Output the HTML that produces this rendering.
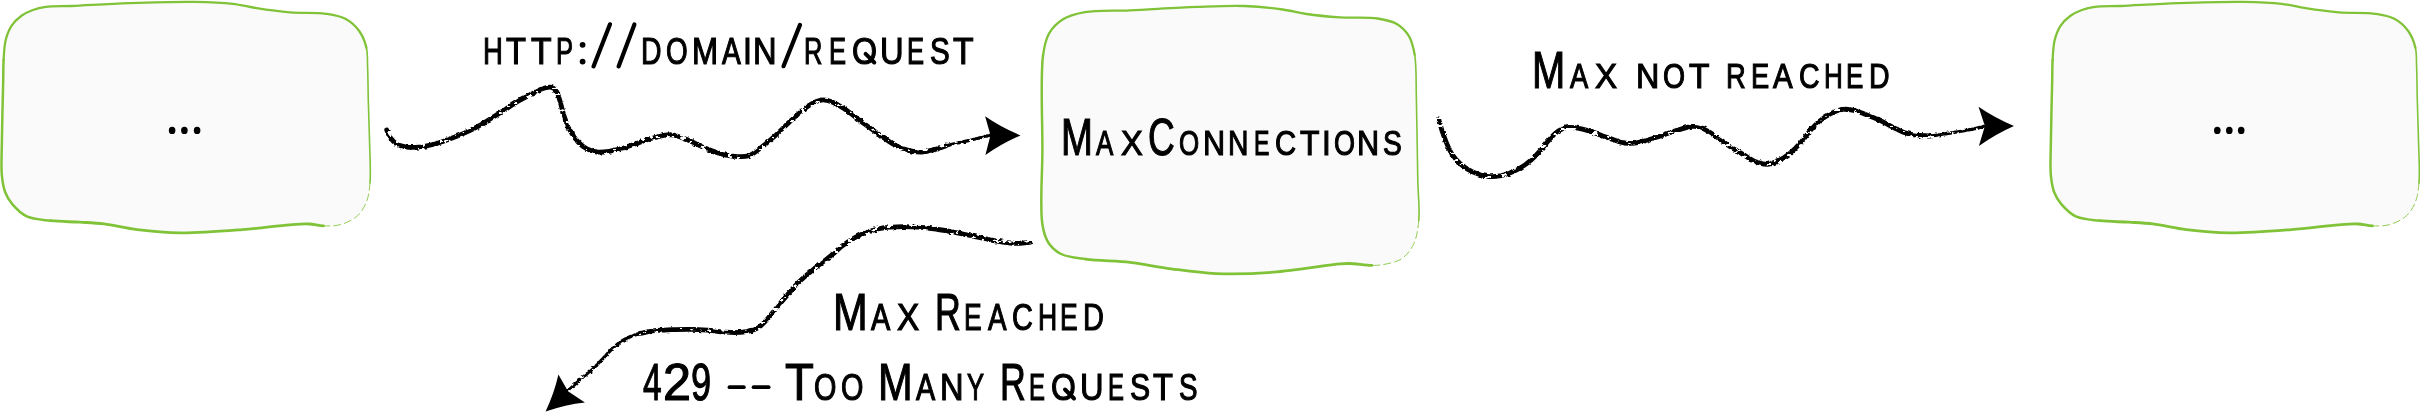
<!DOCTYPE html>
<html><head><meta charset="utf-8">
<style>
html,body{margin:0;padding:0;background:#fff;}
body{width:2420px;height:419px;position:relative;overflow:hidden;}
svg{position:absolute;left:0;top:0;}
.c{position:absolute;white-space:nowrap;font-family:"Liberation Sans",sans-serif;color:#000;line-height:1;transform-origin:0 0;-webkit-text-stroke:1.15px #000;}
</style></head><body>
<svg width="2420" height="419" viewBox="0 0 2420 419">
<defs>
<filter id="rough" x="-5%" y="-20%" width="110%" height="140%"><feTurbulence type="fractalNoise" baseFrequency="0.25" numOctaves="2" seed="3" result="n"/><feDisplacementMap in="SourceGraphic" in2="n" scale="3" xChannelSelector="R" yChannelSelector="G" result="d"/><feTurbulence type="fractalNoise" baseFrequency="0.15 0.25" numOctaves="3" seed="11" result="n2"/><feColorMatrix in="n2" type="matrix" values="0 0 0 0 0  0 0 0 0 0  0 0 0 0 0  -25 0 0 0 17.0" result="m"/><feComposite in="d" in2="m" operator="in"/></filter>
</defs>
<path d="M45.8,6.9 C52.9,5.9 61.3,6.4 71.6,6.0 C86.9,5.3 109.1,3.8 128.8,3.1 C149.9,2.4 175.6,1.6 194.5,1.9 C209.0,2.1 221.5,2.5 232.7,3.8 C241.6,4.8 248.0,6.8 256.6,8.1 C266.8,9.7 278.7,11.4 290.0,12.4 C301.7,13.4 315.8,12.4 325.8,13.8 C333.2,14.9 339.3,15.7 344.9,18.6 C350.4,21.5 355.6,26.1 359.2,31.0 C362.7,35.8 365.0,41.8 366.4,47.7 C367.8,53.7 367.3,59.6 367.6,66.8 C368.0,76.3 368.0,88.4 368.3,100.0 C368.6,112.7 369.2,126.4 369.5,140.0 C369.8,154.1 371.0,171.6 370.0,183.0 C369.3,190.6 368.7,196.3 366.4,202.0 C364.2,207.4 361.1,212.6 356.8,216.4 C352.4,220.3 345.8,223.1 340.1,224.7 C334.7,226.2 328.7,226.1 323.4,225.9 C318.4,225.8 314.2,224.2 309.1,224.0 C303.2,223.7 297.8,224.2 290.0,224.8 C277.7,225.7 259.3,228.3 242.3,229.6 C223.0,231.1 199.0,233.1 180.2,232.9 C164.6,232.7 150.7,231.3 137.3,229.6 C125.4,228.1 114.1,225.1 103.9,223.9 C95.3,222.9 88.4,222.7 80.0,222.2 C70.7,221.6 59.9,221.8 50.7,220.7 C42.3,219.7 33.4,219.5 26.8,216.4 C21.0,213.7 16.2,208.7 12.5,204.4 C9.3,200.7 7.0,197.0 5.3,192.5 C3.4,187.6 2.6,182.5 1.9,175.8 C0.9,166.2 1.8,153.5 1.9,140.0 C2.1,122.6 2.9,94.6 3.2,80.0 C3.4,71.5 3.2,66.7 3.6,60.0 C4.0,53.3 4.2,46.0 5.7,40.0 C7.0,34.8 8.8,29.9 11.5,25.8 C14.1,21.8 17.8,18.4 21.5,15.7 C25.0,13.2 28.9,11.5 32.9,10.0 C37.0,8.5 40.7,7.6 45.8,6.9 Z" fill="#fafafa" stroke="none"/><g fill="none" stroke="#80c338" stroke-linecap="round" stroke-linejoin="round"><path d="M3.6,60.0 C4.0,53.3 4.2,46.0 5.7,40.0 C7.0,34.8 8.8,29.9 11.5,25.8 C14.1,21.8 17.8,18.4 21.5,15.7 C25.0,13.2 28.9,11.5 32.9,10.0 C37.0,8.5 40.7,7.6 45.8,6.9 C52.9,5.9 61.3,6.4 71.6,6.0 C86.9,5.3 109.1,3.8 128.8,3.1 C149.9,2.4 175.6,1.6 194.5,1.9 C209.0,2.1 221.5,2.5 232.7,3.8 C241.6,4.8 248.0,6.8 256.6,8.1 C266.8,9.7 278.7,11.4 290.0,12.4 C301.7,13.4 315.8,12.4 325.8,13.8 C333.2,14.9 339.3,15.7 344.9,18.6 C350.4,21.5 355.6,26.1 359.2,31.0 C362.7,35.8 365.0,41.8 366.4,47.7" stroke-width="2.3"/><path d="M366.4,47.7 C367.8,53.7 367.3,59.6 367.6,66.8 C368.0,76.3 368.0,88.4 368.3,100.0 C368.6,112.7 369.2,126.4 369.5,140.0 C369.8,154.1 371.0,171.6 370.0,183.0" stroke-width="1.6"/><path d="M370.0,183.0 C369.3,190.6 368.7,196.3 366.4,202.0 C364.2,207.4 361.1,212.6 356.8,216.4 C352.4,220.3 345.8,223.1 340.1,224.7 C334.7,226.2 328.7,226.1 323.4,225.9" stroke-width="1.0" stroke-dasharray="7 4" stroke-opacity="0.85"/><path d="M323.4,225.9 C318.4,225.8 314.2,224.2 309.1,224.0 C303.2,223.7 297.8,224.2 290.0,224.8 C277.7,225.7 259.3,228.3 242.3,229.6 C223.0,231.1 199.0,233.1 180.2,232.9 C164.6,232.7 150.7,231.3 137.3,229.6 C125.4,228.1 114.1,225.1 103.9,223.9 C95.3,222.9 88.4,222.7 80.0,222.2 C70.7,221.6 59.9,221.8 50.7,220.7" stroke-width="2.8"/><path d="M50.7,220.7 C42.3,219.7 33.4,219.5 26.8,216.4 C21.0,213.7 16.2,208.7 12.5,204.4 C9.3,200.7 7.0,197.0 5.3,192.5 C3.4,187.6 2.6,182.5 1.9,175.8 C0.9,166.2 1.8,153.5 1.9,140.0 C2.1,122.6 2.9,94.6 3.2,80.0 C3.4,71.5 3.2,66.7 3.6,60.0" stroke-width="2.5"/></g>
<path d="M1084.9,12.2 C1097.1,10.0 1113.5,11.1 1130.0,10.3 C1150.1,9.4 1176.4,7.6 1196.8,6.9 C1214.0,6.3 1229.5,5.5 1244.5,6.0 C1258.0,6.5 1271.5,7.9 1282.7,9.5 C1291.6,10.7 1297.9,12.7 1306.6,14.0 C1316.8,15.5 1328.5,16.6 1340.0,17.4 C1352.2,18.2 1367.3,16.9 1377.7,18.5 C1385.2,19.7 1391.5,20.8 1396.8,23.9 C1401.7,26.8 1405.8,30.9 1408.8,35.8 C1412.0,41.1 1413.4,47.1 1414.7,54.9 C1416.7,66.7 1415.9,82.8 1416.4,100.0 C1417.0,122.9 1417.3,157.8 1417.8,180.0 C1418.1,195.8 1419.9,208.9 1418.8,220.6 C1417.9,229.6 1416.7,237.8 1413.5,244.4 C1410.7,250.2 1406.6,255.4 1401.6,258.8 C1396.4,262.3 1388.0,263.7 1382.5,264.7 C1378.5,265.4 1376.0,265.4 1371.8,265.4 C1365.6,265.3 1355.0,263.6 1349.1,263.5 C1345.4,263.4 1344.4,263.5 1340.0,263.9 C1328.0,264.9 1294.7,270.6 1273.2,272.2 C1253.4,273.7 1233.8,274.3 1215.9,273.6 C1200.0,272.9 1185.6,270.7 1171.0,268.8 C1157.0,267.0 1144.0,264.0 1130.0,262.4 C1115.6,260.8 1098.4,261.0 1085.8,259.2 C1076.3,257.9 1067.5,257.3 1061.0,254.0 C1055.7,251.3 1051.7,247.6 1048.6,243.0 C1045.3,238.0 1043.8,232.9 1042.4,224.5 C1039.7,208.1 1042.3,176.3 1042.4,150.0 C1042.5,120.2 1040.2,75.2 1043.1,54.9 C1044.5,45.1 1045.6,39.5 1049.1,33.4 C1052.5,27.6 1057.7,22.6 1063.4,19.1 C1069.5,15.4 1076.3,13.7 1084.9,12.2 Z" fill="#fafafa" stroke="none"/><g fill="none" stroke="#80c338" stroke-linecap="round" stroke-linejoin="round"><path d="M1043.1,54.9 C1044.5,45.1 1045.6,39.5 1049.1,33.4 C1052.5,27.6 1057.7,22.6 1063.4,19.1 C1069.5,15.4 1076.3,13.7 1084.9,12.2 C1097.1,10.0 1113.5,11.1 1130.0,10.3 C1150.1,9.4 1176.4,7.6 1196.8,6.9 C1214.0,6.3 1229.5,5.5 1244.5,6.0 C1258.0,6.5 1271.5,7.9 1282.7,9.5 C1291.6,10.7 1297.9,12.7 1306.6,14.0 C1316.8,15.5 1328.5,16.6 1340.0,17.4 C1352.2,18.2 1367.3,16.9 1377.7,18.5 C1385.2,19.7 1391.5,20.8 1396.8,23.9 C1401.7,26.8 1405.8,30.9 1408.8,35.8 C1412.0,41.1 1413.4,47.1 1414.7,54.9" stroke-width="2.3"/><path d="M1414.7,54.9 C1416.7,66.7 1415.9,82.8 1416.4,100.0 C1417.0,122.9 1417.3,157.8 1417.8,180.0 C1418.1,195.8 1419.9,208.9 1418.8,220.6" stroke-width="1.6"/><path d="M1418.8,220.6 C1417.9,229.6 1416.7,237.8 1413.5,244.4 C1410.7,250.2 1406.6,255.4 1401.6,258.8 C1396.4,262.3 1388.0,263.7 1382.5,264.7 C1378.5,265.4 1376.0,265.4 1371.8,265.4" stroke-width="1.0" stroke-dasharray="7 4" stroke-opacity="0.85"/><path d="M1371.8,265.4 C1365.6,265.3 1355.0,263.6 1349.1,263.5 C1345.4,263.4 1344.4,263.5 1340.0,263.9 C1328.0,264.9 1294.7,270.6 1273.2,272.2 C1253.4,273.7 1233.8,274.3 1215.9,273.6 C1200.0,272.9 1185.6,270.7 1171.0,268.8 C1157.0,267.0 1144.0,264.0 1130.0,262.4 C1115.6,260.8 1098.4,261.0 1085.8,259.2" stroke-width="2.8"/><path d="M1085.8,259.2 C1076.3,257.9 1067.5,257.3 1061.0,254.0 C1055.7,251.3 1051.7,247.6 1048.6,243.0 C1045.3,238.0 1043.8,232.9 1042.4,224.5 C1039.7,208.1 1042.3,176.3 1042.4,150.0 C1042.5,120.2 1040.2,75.2 1043.1,54.9" stroke-width="2.5"/></g>
<path d="M2094.8,6.9 C2101.9,5.9 2110.3,6.4 2120.6,6.0 C2135.9,5.3 2158.1,3.8 2177.8,3.1 C2198.9,2.4 2224.6,1.6 2243.5,1.9 C2258.0,2.1 2270.5,2.5 2281.7,3.8 C2290.6,4.8 2297.0,6.8 2305.6,8.1 C2315.8,9.7 2327.7,11.4 2339.0,12.4 C2350.7,13.4 2364.8,12.4 2374.8,13.8 C2382.2,14.9 2388.3,15.7 2393.9,18.6 C2399.4,21.5 2404.6,26.1 2408.2,31.0 C2411.7,35.8 2414.0,41.8 2415.4,47.7 C2416.8,53.7 2416.3,59.6 2416.6,66.8 C2417.0,76.3 2417.0,88.4 2417.3,100.0 C2417.6,112.7 2418.2,126.4 2418.5,140.0 C2418.8,154.1 2420.0,171.6 2419.0,183.0 C2418.3,190.6 2417.7,196.3 2415.4,202.0 C2413.2,207.4 2410.1,212.6 2405.8,216.4 C2401.4,220.3 2394.8,223.1 2389.1,224.7 C2383.7,226.2 2377.7,226.1 2372.4,225.9 C2367.4,225.8 2363.2,224.2 2358.1,224.0 C2352.2,223.7 2346.8,224.2 2339.0,224.8 C2326.7,225.7 2308.3,228.3 2291.3,229.6 C2272.0,231.1 2248.0,233.1 2229.2,232.9 C2213.6,232.7 2199.7,231.3 2186.3,229.6 C2174.4,228.1 2163.1,225.1 2152.9,223.9 C2144.3,222.9 2137.4,222.7 2129.0,222.2 C2119.7,221.6 2108.9,221.8 2099.7,220.7 C2091.3,219.7 2082.4,219.5 2075.8,216.4 C2070.0,213.7 2065.2,208.7 2061.5,204.4 C2058.3,200.7 2056.0,197.0 2054.3,192.5 C2052.4,187.6 2051.6,182.5 2050.9,175.8 C2049.9,166.2 2050.8,153.5 2050.9,140.0 C2051.1,122.6 2051.9,94.6 2052.2,80.0 C2052.4,71.5 2052.2,66.7 2052.6,60.0 C2053.0,53.3 2053.2,46.0 2054.7,40.0 C2056.0,34.8 2057.8,29.9 2060.5,25.8 C2063.1,21.8 2066.8,18.4 2070.5,15.7 C2074.0,13.2 2077.9,11.5 2081.9,10.0 C2086.0,8.5 2089.7,7.6 2094.8,6.9 Z" fill="#fafafa" stroke="none"/><g fill="none" stroke="#80c338" stroke-linecap="round" stroke-linejoin="round"><path d="M2052.6,60.0 C2053.0,53.3 2053.2,46.0 2054.7,40.0 C2056.0,34.8 2057.8,29.9 2060.5,25.8 C2063.1,21.8 2066.8,18.4 2070.5,15.7 C2074.0,13.2 2077.9,11.5 2081.9,10.0 C2086.0,8.5 2089.7,7.6 2094.8,6.9 C2101.9,5.9 2110.3,6.4 2120.6,6.0 C2135.9,5.3 2158.1,3.8 2177.8,3.1 C2198.9,2.4 2224.6,1.6 2243.5,1.9 C2258.0,2.1 2270.5,2.5 2281.7,3.8 C2290.6,4.8 2297.0,6.8 2305.6,8.1 C2315.8,9.7 2327.7,11.4 2339.0,12.4 C2350.7,13.4 2364.8,12.4 2374.8,13.8 C2382.2,14.9 2388.3,15.7 2393.9,18.6 C2399.4,21.5 2404.6,26.1 2408.2,31.0 C2411.7,35.8 2414.0,41.8 2415.4,47.7" stroke-width="2.3"/><path d="M2415.4,47.7 C2416.8,53.7 2416.3,59.6 2416.6,66.8 C2417.0,76.3 2417.0,88.4 2417.3,100.0 C2417.6,112.7 2418.2,126.4 2418.5,140.0 C2418.8,154.1 2420.0,171.6 2419.0,183.0" stroke-width="1.6"/><path d="M2419.0,183.0 C2418.3,190.6 2417.7,196.3 2415.4,202.0 C2413.2,207.4 2410.1,212.6 2405.8,216.4 C2401.4,220.3 2394.8,223.1 2389.1,224.7 C2383.7,226.2 2377.7,226.1 2372.4,225.9" stroke-width="1.0" stroke-dasharray="7 4" stroke-opacity="0.85"/><path d="M2372.4,225.9 C2367.4,225.8 2363.2,224.2 2358.1,224.0 C2352.2,223.7 2346.8,224.2 2339.0,224.8 C2326.7,225.7 2308.3,228.3 2291.3,229.6 C2272.0,231.1 2248.0,233.1 2229.2,232.9 C2213.6,232.7 2199.7,231.3 2186.3,229.6 C2174.4,228.1 2163.1,225.1 2152.9,223.9 C2144.3,222.9 2137.4,222.7 2129.0,222.2 C2119.7,221.6 2108.9,221.8 2099.7,220.7" stroke-width="2.8"/><path d="M2099.7,220.7 C2091.3,219.7 2082.4,219.5 2075.8,216.4 C2070.0,213.7 2065.2,208.7 2061.5,204.4 C2058.3,200.7 2056.0,197.0 2054.3,192.5 C2052.4,187.6 2051.6,182.5 2050.9,175.8 C2049.9,166.2 2050.8,153.5 2050.9,140.0 C2051.1,122.6 2051.9,94.6 2052.2,80.0 C2052.4,71.5 2052.2,66.7 2052.6,60.0" stroke-width="2.5"/></g>
<g fill="none" stroke="#000" stroke-width="4.8" filter="url(#rough)" stroke-linecap="round" stroke-linejoin="round">
<path d="M386.7,130.0 C387.8,132.4 388.5,135.0 389.9,137.2 C391.5,139.5 393.4,141.8 395.9,143.4 C398.5,145.1 401.9,146.1 405.4,146.8 C409.3,147.5 413.9,147.5 418.5,147.2 C423.4,146.8 428.7,145.7 434.0,144.3 C439.7,142.8 446.1,140.4 451.6,138.3 C456.7,136.4 461.3,134.5 465.9,132.3 C470.4,130.3 474.7,128.1 478.9,125.8 C483.0,123.5 486.8,121.1 490.9,118.5 C495.4,115.7 500.4,112.5 504.9,109.7 C509.2,107.0 513.1,104.3 517.3,101.8 C521.4,99.4 525.9,97.2 530.0,95.0 C533.9,93.0 537.8,90.4 541.5,89.1 C544.6,88.0 548.0,86.8 550.6,87.2 C552.7,87.6 554.5,88.7 555.9,90.5 C557.9,92.7 558.7,96.9 559.9,100.7 C561.3,105.1 562.3,110.7 563.9,115.4 C565.4,120.0 567.0,124.5 569.2,128.8 C571.7,133.3 574.8,138.5 578.1,142.0 C580.8,144.9 583.7,147.2 586.9,148.8 C590.0,150.5 593.4,151.5 597.0,152.0 C600.8,152.4 604.8,151.9 609.1,151.3 C614.1,150.5 619.8,148.9 625.1,147.3 C630.6,145.8 636.2,143.6 641.5,141.8 C646.7,140.1 651.7,138.1 656.8,137.0 C661.7,135.8 666.7,134.4 671.7,134.8 C676.9,135.2 682.0,137.7 687.5,139.8 C693.5,142.2 700.0,146.1 706.2,148.6 C711.9,150.9 717.7,153.1 723.2,154.5 C728.1,155.7 733.2,156.4 737.7,156.6 C741.6,156.8 745.2,157.0 748.7,155.8 C752.7,154.5 756.5,151.0 760.4,148.1 C764.9,144.8 769.6,140.7 774.0,136.8 C778.4,132.8 782.6,128.5 786.8,124.5 C791.0,120.6 795.1,116.5 799.4,113.0 C803.4,109.6 807.5,106.0 811.6,103.8 C815.2,101.9 818.8,100.2 822.3,99.9 C825.6,99.7 828.8,100.6 832.1,101.9 C836.2,103.4 840.3,106.2 844.6,109.1 C849.7,112.5 855.1,117.0 860.6,121.1 C866.6,125.5 873.3,130.4 879.3,134.6 C884.7,138.3 889.7,142.3 894.8,145.0 C899.4,147.4 903.8,149.3 908.4,150.4 C912.8,151.5 917.3,152.1 921.5,152.0 C925.6,151.9 929.5,150.8 933.5,149.8 C937.5,148.9 941.6,147.3 945.6,146.0"/><path d="M933.5,149.8 C937.5,148.6 941.4,147.2 945.6,146.0 C950.1,144.8 955.0,143.8 959.5,142.7 C963.7,141.7 967.7,140.9 971.7,140.0 C975.5,139.0 979.4,137.8 982.8,137.0 C985.7,136.2 988.3,135.7 991.0,135.1" stroke-width="3.3" stroke-dasharray="7 2.5 3 2"/>
<path d="M1438.6,118.9 C1439.7,122.6 1440.6,126.2 1441.8,130.0 C1443.1,134.0 1444.6,138.2 1446.2,142.2 C1447.9,146.3 1449.6,150.6 1452.0,154.3 C1454.5,158.0 1457.5,161.4 1460.9,164.3 C1464.5,167.4 1468.8,170.1 1473.2,172.1 C1477.6,174.1 1482.5,175.7 1487.2,176.3 C1491.9,176.9 1496.8,176.5 1501.3,175.7 C1505.7,174.8 1509.9,173.2 1513.9,171.4 C1517.7,169.6 1521.3,167.4 1524.6,165.1 C1527.8,162.9 1530.5,160.6 1533.3,158.0 C1536.2,155.3 1538.9,152.1 1541.7,149.0 C1544.5,145.7 1547.1,141.9 1550.0,138.8 C1552.8,135.8 1555.5,132.7 1558.6,130.8 C1561.6,129.0 1565.0,127.8 1568.4,127.4 C1571.8,127.0 1575.3,127.7 1578.9,128.4 C1583.0,129.1 1587.5,130.5 1591.8,131.9 C1596.2,133.3 1600.7,135.1 1605.1,136.7 C1609.5,138.3 1613.9,140.2 1618.2,141.3 C1622.2,142.4 1626.1,143.4 1630.0,143.4 C1633.9,143.5 1637.8,142.5 1641.7,141.6 C1645.8,140.7 1649.8,139.4 1654.1,138.0 C1659.0,136.5 1664.6,134.4 1669.6,132.8 C1674.1,131.3 1678.7,129.8 1682.7,128.6 C1686.0,127.7 1688.8,126.6 1691.8,126.4 C1694.7,126.2 1697.5,126.5 1700.4,127.5 C1703.6,128.5 1706.9,130.7 1710.2,132.6 C1713.5,134.6 1716.7,137.0 1719.9,139.3 C1723.3,141.7 1726.4,144.2 1730.0,146.6 C1734.1,149.3 1739.0,152.0 1743.3,154.6 C1747.6,157.1 1751.7,160.2 1755.8,161.8 C1759.5,163.3 1763.2,164.5 1766.9,164.4 C1770.6,164.2 1774.2,162.7 1777.9,161.0 C1781.9,159.2 1786.1,156.3 1789.8,153.3 C1793.8,150.1 1797.4,146.3 1800.9,142.4 C1804.5,138.4 1807.7,133.4 1811.0,129.7 C1813.8,126.6 1816.0,124.0 1819.0,121.5 C1822.4,118.7 1826.3,115.9 1830.3,113.9 C1834.2,111.9 1838.8,109.9 1842.9,109.4 C1846.6,108.9 1850.0,109.6 1853.7,110.4 C1857.6,111.2 1861.5,112.9 1865.6,114.4 C1870.2,116.1 1875.2,118.1 1879.9,120.3 C1884.4,122.4 1888.9,125.2 1893.2,127.3 C1897.2,129.3 1900.9,131.5 1904.8,132.8 C1908.4,134.0 1911.8,134.6 1915.8,135.1 C1920.3,135.7 1925.5,135.7 1930.3,136.0"/><path d="M1915.8,135.1 C1920.6,135.4 1925.3,136.3 1930.3,136.0 C1935.7,135.8 1941.3,134.4 1946.8,133.5 C1952.2,132.7 1957.9,131.8 1963.0,130.9 C1967.6,130.1 1972.2,129.3 1976.1,128.4 C1979.4,127.7 1982.0,126.8 1985.0,126.0" stroke-width="3.3" stroke-dasharray="7 2.5 3 2"/>
<path d="M1029.9,242.4 C1025.1,242.7 1020.5,243.5 1015.6,243.4 C1010.4,243.4 1005.1,242.5 999.8,241.7 C994.4,240.9 989.1,239.7 983.7,238.5 C978.3,237.4 972.9,236.1 967.6,235.0 C962.4,233.8 957.0,232.7 952.0,231.8 C947.2,230.9 942.9,230.2 938.0,229.5 C932.7,228.7 927.2,227.8 921.4,227.4 C915.4,226.9 908.7,226.6 902.6,226.6 C896.7,226.7 890.9,226.8 885.3,227.6 C880.0,228.3 874.7,229.6 869.8,231.2 C865.1,232.7 860.6,234.5 856.3,236.8 C851.8,239.1 847.5,242.1 843.2,245.2 C838.7,248.6 834.6,252.8 829.8,256.6 C824.7,260.8 818.5,265.2 813.3,269.6 C808.3,273.7 803.5,277.5 799.0,282.0 C794.3,286.6 789.9,292.0 785.7,296.9 C781.8,301.5 777.9,306.2 774.4,310.5 C771.2,314.3 768.4,318.3 765.3,321.4 C762.6,324.2 760.3,326.7 756.9,328.4 C753.0,330.5 747.9,331.5 742.9,332.1 C737.5,332.9 731.3,332.6 725.5,332.2 C719.6,331.9 713.6,330.6 707.6,330.1 C701.6,329.6 695.7,329.3 689.7,329.3 C683.7,329.2 677.7,329.5 671.8,329.7 C666.0,329.9 660.0,329.9 654.5,330.6 C649.4,331.2 644.8,332.5 639.9,333.4"/><path d="M654.5,330.6 C649.6,331.5 644.6,332.1 639.9,333.4 C635.1,334.8 630.1,336.6 625.8,338.8 C621.7,341.0 617.9,343.7 614.4,346.6 C610.8,349.6 608.1,353.3 604.7,356.7 C601.1,360.5 597.5,364.7 593.5,368.4 C589.4,372.2 584.8,375.4 580.5,379.1 C576.3,382.9 572.2,387.0 568.0,391.0" stroke-width="3.3" stroke-dasharray="7 2.5 3 2"/>
</g>
<g fill="#000">
<path d="M1020.5,135.4 Q1001.0,127.2 985.1,116.2 L990.5,135.2 L985.4,155.1 Q1001.1,143.7 1020.5,135.4 Z"/>
<path d="M2014.0,125.9 Q1994.5,117.7 1978.5,106.7 L1984.9,125.9 L1978.9,146.0 Q1994.7,134.4 2014.0,125.9 Z"/>
<path d="M545.6,411.4 Q554.4,392.6 558.4,374.4 L568.0,391.2 L584.9,402.4 Q565.7,404.5 545.6,411.4 Z"/>
<circle cx="582.6" cy="44.8" r="2.9"/><circle cx="582.6" cy="61.6" r="2.9"/>
</g>
<g stroke="#000" stroke-width="4.2" stroke-linecap="round" fill="none">
<line x1="610" y1="24.3" x2="593.5" y2="66.4"/>
<line x1="634.4" y1="24.4" x2="618.6" y2="66.4"/>
<line x1="800" y1="24.9" x2="783.5" y2="66.2"/>
<line x1="1065" y1="389.5" x2="1074" y2="398.5" stroke-width="4"/>
<line x1="865.6" y1="53.8" x2="874.3" y2="62.5" stroke-width="4"/>
<line x1="729.5" y1="387.2" x2="743.8" y2="387.2" stroke-width="3.8"/>
<line x1="753.6" y1="387.2" x2="768.6" y2="387.2" stroke-width="3.8"/>
</g>
<g fill="#000">
<ellipse cx="172.1" cy="130.4" rx="3.3" ry="3.6"/>
<ellipse cx="184.4" cy="130.4" rx="3.3" ry="3.6"/>
<ellipse cx="197.1" cy="130.4" rx="3.3" ry="3.6"/>
<ellipse cx="2217.3" cy="130.4" rx="3.3" ry="3.6"/>
<ellipse cx="2229.3" cy="130.4" rx="3.3" ry="3.6"/>
<ellipse cx="2241.2" cy="130.4" rx="3.3" ry="3.6"/>
</g>
</svg>
<span class="c" style="left:482.69px;top:33.52px;font-size:36px;transform:scaleX(0.765)">H</span>
<span class="c" style="left:505.95px;top:33.52px;font-size:36px;transform:scaleX(0.907)">T</span>
<span class="c" style="left:530.91px;top:33.52px;font-size:36px;transform:scaleX(0.935)">T</span>
<span class="c" style="left:555.60px;top:33.52px;font-size:36px;transform:scaleX(0.711)">P</span>
<span class="c" style="left:640.79px;top:33.52px;font-size:36px;transform:scaleX(0.788)">D</span>
<span class="c" style="left:665.87px;top:33.52px;font-size:36px;transform:scaleX(0.773)">O</span>
<span class="c" style="left:691.86px;top:33.52px;font-size:36px;transform:scaleX(0.870)">M</span>
<span class="c" style="left:721.76px;top:33.52px;font-size:36px;transform:scaleX(0.783)">A</span>
<span class="c" style="left:743.43px;top:33.52px;font-size:36px;transform:scaleX(0.892)">I</span>
<span class="c" style="left:753.48px;top:33.52px;font-size:36px;transform:scaleX(0.907)">N</span>
<span class="c" style="left:804.30px;top:33.52px;font-size:36px;transform:scaleX(0.706)">R</span>
<span class="c" style="left:828.57px;top:33.52px;font-size:36px;transform:scaleX(0.711)">E</span>
<span class="c" style="left:851.51px;top:33.52px;font-size:36px;transform:scaleX(0.894)">O</span>
<span class="c" style="left:880.12px;top:33.52px;font-size:36px;transform:scaleX(0.907)">U</span>
<span class="c" style="left:907.31px;top:33.52px;font-size:36px;transform:scaleX(0.711)">E</span>
<span class="c" style="left:929.62px;top:33.52px;font-size:36px;transform:scaleX(0.822)">S</span>
<span class="c" style="left:952.82px;top:33.52px;font-size:36px;transform:scaleX(0.935)">T</span>
<span class="c" style="left:1060.61px;top:112.43px;font-size:51px;transform:scaleX(0.751)">M</span>
<span class="c" style="left:1096.18px;top:125.43px;font-size:35px;transform:scaleX(0.740)">A</span>
<span class="c" style="left:1121.11px;top:125.43px;font-size:35px;transform:scaleX(0.931)">X</span>
<span class="c" style="left:1148.24px;top:112.43px;font-size:51px;transform:scaleX(0.727)">C</span>
<span class="c" style="left:1179.20px;top:125.43px;font-size:35px;transform:scaleX(0.741)">O</span>
<span class="c" style="left:1203.09px;top:125.43px;font-size:35px;transform:scaleX(0.875)">N</span>
<span class="c" style="left:1228.00px;top:125.43px;font-size:35px;transform:scaleX(0.809)">N</span>
<span class="c" style="left:1253.88px;top:125.43px;font-size:35px;transform:scaleX(0.660)">E</span>
<span class="c" style="left:1274.63px;top:125.43px;font-size:35px;transform:scaleX(0.835)">C</span>
<span class="c" style="left:1300.32px;top:125.43px;font-size:35px;transform:scaleX(0.910)">T</span>
<span class="c" style="left:1322.43px;top:125.43px;font-size:35px;transform:scaleX(0.904)">I</span>
<span class="c" style="left:1333.60px;top:125.43px;font-size:35px;transform:scaleX(0.771)">O</span>
<span class="c" style="left:1356.72px;top:125.43px;font-size:35px;transform:scaleX(0.875)">N</span>
<span class="c" style="left:1383.22px;top:125.43px;font-size:35px;transform:scaleX(0.805)">S</span>
<span class="c" style="left:1532.24px;top:45.42px;font-size:51px;transform:scaleX(0.782)">M</span>
<span class="c" style="left:1569.91px;top:58.42px;font-size:35px;transform:scaleX(0.780)">A</span>
<span class="c" style="left:1595.13px;top:58.42px;font-size:35px;transform:scaleX(0.943)">X</span>
<span class="c" style="left:1635.68px;top:58.42px;font-size:35px;transform:scaleX(0.922)">N</span>
<span class="c" style="left:1662.56px;top:58.42px;font-size:35px;transform:scaleX(0.811)">O</span>
<span class="c" style="left:1689.36px;top:58.42px;font-size:35px;transform:scaleX(0.957)">T</span>
<span class="c" style="left:1726.17px;top:58.42px;font-size:35px;transform:scaleX(0.780)">R</span>
<span class="c" style="left:1750.52px;top:58.42px;font-size:35px;transform:scaleX(0.780)">E</span>
<span class="c" style="left:1773.31px;top:58.42px;font-size:35px;transform:scaleX(0.843)">A</span>
<span class="c" style="left:1799.18px;top:58.42px;font-size:35px;transform:scaleX(0.813)">C</span>
<span class="c" style="left:1824.37px;top:58.42px;font-size:35px;transform:scaleX(0.744)">H</span>
<span class="c" style="left:1846.36px;top:58.42px;font-size:35px;transform:scaleX(0.742)">E</span>
<span class="c" style="left:1869.03px;top:58.42px;font-size:35px;transform:scaleX(0.814)">D</span>
<span class="c" style="left:832.72px;top:287.43px;font-size:51px;transform:scaleX(0.815)">M</span>
<span class="c" style="left:870.87px;top:299.93px;font-size:36px;transform:scaleX(0.802)">A</span>
<span class="c" style="left:896.54px;top:299.93px;font-size:36px;transform:scaleX(0.925)">X</span>
<span class="c" style="left:935.49px;top:287.43px;font-size:51px;transform:scaleX(0.700)">R</span>
<span class="c" style="left:963.98px;top:299.93px;font-size:36px;transform:scaleX(0.735)">E</span>
<span class="c" style="left:987.96px;top:299.93px;font-size:36px;transform:scaleX(0.771)">A</span>
<span class="c" style="left:1012.00px;top:299.93px;font-size:36px;transform:scaleX(0.802)">C</span>
<span class="c" style="left:1038.43px;top:299.93px;font-size:36px;transform:scaleX(0.737)">H</span>
<span class="c" style="left:1060.15px;top:299.93px;font-size:36px;transform:scaleX(0.735)">E</span>
<span class="c" style="left:1082.54px;top:299.93px;font-size:36px;transform:scaleX(0.803)">D</span>
<span class="c" style="left:642.91px;top:357.03px;font-size:51px;transform:scaleX(0.657)">4</span>
<span class="c" style="left:662.72px;top:357.03px;font-size:51px;transform:scaleX(0.987)">2</span>
<span class="c" style="left:691.03px;top:357.03px;font-size:51px;transform:scaleX(0.709)">9</span>
<span class="c" style="left:785.49px;top:357.03px;font-size:51px;transform:scaleX(0.926)">T</span>
<span class="c" style="left:814.24px;top:369.53px;font-size:36px;transform:scaleX(0.800)">O</span>
<span class="c" style="left:840.61px;top:369.53px;font-size:36px;transform:scaleX(0.800)">O</span>
<span class="c" style="left:878.49px;top:357.03px;font-size:51px;transform:scaleX(0.815)">M</span>
<span class="c" style="left:915.86px;top:369.53px;font-size:36px;transform:scaleX(0.799)">A</span>
<span class="c" style="left:939.65px;top:369.53px;font-size:36px;transform:scaleX(0.905)">N</span>
<span class="c" style="left:966.94px;top:369.53px;font-size:36px;transform:scaleX(0.709)">Y</span>
<span class="c" style="left:999.81px;top:357.03px;font-size:51px;transform:scaleX(0.700)">R</span>
<span class="c" style="left:1029.18px;top:369.53px;font-size:36px;transform:scaleX(0.665)">E</span>
<span class="c" style="left:1051.47px;top:369.53px;font-size:36px;transform:scaleX(0.886)">O</span>
<span class="c" style="left:1080.03px;top:369.53px;font-size:36px;transform:scaleX(0.905)">U</span>
<span class="c" style="left:1107.51px;top:369.53px;font-size:36px;transform:scaleX(0.665)">E</span>
<span class="c" style="left:1129.82px;top:369.53px;font-size:36px;transform:scaleX(0.838)">S</span>
<span class="c" style="left:1153.19px;top:369.53px;font-size:36px;transform:scaleX(0.905)">T</span>
<span class="c" style="left:1178.71px;top:369.53px;font-size:36px;transform:scaleX(0.771)">S</span>
</body></html>
